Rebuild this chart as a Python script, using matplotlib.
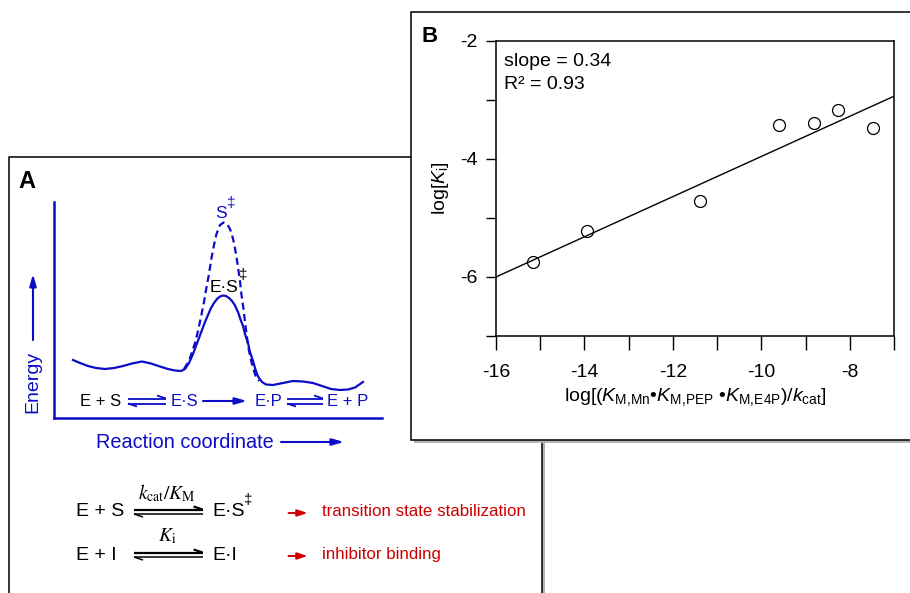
import numpy as np
import matplotlib.pyplot as plt
from matplotlib.patches import Rectangle

plt.rcParams['font.family'] = ['Liberation Sans', 'DejaVu Sans']
plt.rcParams['axes.unicode_minus'] = False
plt.rcParams['mathtext.fontset'] = 'custom'
plt.rcParams['mathtext.rm'] = 'Liberation Sans'
plt.rcParams['mathtext.it'] = 'Liberation Sans:italic'
plt.rcParams['mathtext.bf'] = 'Liberation Sans:bold'

# panel B: log Ki vs log[(KM,Mn*KM,PEP*KM,E4P)/kcat]
log_prod = [-15.17, -13.95, -11.39, -9.59, -8.80, -8.26, -7.47]
log_ki = [-5.75, -5.22, -4.72, -3.43, -3.40, -3.17, -3.48]
fit_slope = 0.34
fit_intercept = -0.56
fit_range = [-16, -7]
x_major = [-16, -14, -12, -10, -8]
x_minor = [-15, -13, -11, -9, -7]
y_major = [-2, -4, -6]
y_minor = [-3, -5, -7]

# panel A: schematic energy profile (reaction coordinate, energy)
rc_solid = [19, 26, 34, 42, 51, 60, 69, 78, 88, 97, 106, 114, 121, 127, 131, 135,
            139, 142, 145, 148, 151, 154, 157, 160, 163, 166, 169, 172, 175, 178,
            181, 184, 186, 189, 191, 194, 196, 199, 201, 203, 205, 208, 212, 219,
            229, 239, 249, 259, 268, 277, 286, 294, 301, 309]
en_solid = [58, 55, 52, 50, 49, 50, 52, 54.5, 56.5, 54.5, 51.5, 49, 47.5, 47, 49, 55,
            64, 72, 80, 88, 96, 103, 110, 115, 119, 121.5, 122.5, 122, 120, 117,
            112.5, 106, 100, 92, 84, 75, 66, 57, 50, 44, 40, 36, 33.5, 33,
            35, 37, 36.5, 35, 32, 29, 28, 28.5, 30.5, 36]
rc_dash = [130, 133, 136, 141, 144, 147, 150, 152, 155, 157.5, 160, 162.5, 166, 169.5,
           173, 176, 178, 180, 182, 184, 186, 187.5, 189.5, 191, 194, 196, 198, 200,
           202, 205]
en_dash = [49, 54, 60, 75, 87, 101, 116, 128, 144, 160, 173, 184, 193, 195.5,
           194, 189, 183, 175, 164, 151, 137, 123, 109, 96, 73, 62, 54, 47,
           41, 37]

W, H = 910, 593
BLUE = '#0c0cc8'
RED = '#cc0000'

fig = plt.figure(figsize=(9.1, 5.93), dpi=100)
bg = fig.add_axes([0, 0, 1, 1])
bg.set_xlim(0, W)
bg.set_ylim(H, 0)
bg.axis('off')


def px_axes(x0, y0, x1, y1):
    return fig.add_axes([x0 / W, 1 - y1 / H, (x1 - x0) / W, (y1 - y0) / H])


def harpoon(x0, x1, y, color, right=True, lw=1.3):
    bg.plot([x0, x1], [y, y], color=color, lw=lw, solid_capstyle='butt')
    if right:
        bg.plot([x1, x1 - 9], [y, y - 3], color=color, lw=lw, solid_capstyle='butt')
    else:
        bg.plot([x0, x0 + 9], [y, y + 3], color=color, lw=lw, solid_capstyle='butt')


def arrow(x0, y0, x1, y1, color, lw=1.5, hl=0.7, hw=0.2, ms=10):
    bg.annotate('', xy=(x1, y1), xytext=(x0, y0),
                arrowprops=dict(arrowstyle=f'-|>,head_length={hl},head_width={hw}',
                                color=color, lw=lw, shrinkA=0, shrinkB=0,
                                mutation_scale=ms))


# frames
bg.add_patch(Rectangle((12, 160), 533, 460, fc='#b4b4b4', ec='none'))
bg.add_patch(Rectangle((9, 157), 533, 460, fc='white', ec='black', lw=1.1))
bg.add_patch(Rectangle((414, 15), 520, 428, fc='#b4b4b4', ec='none'))
bg.add_patch(Rectangle((411, 12), 520, 428, fc='white', ec='black', lw=1.1))

bg.text(27, 182, 'A', fontsize=17, fontweight='bold', ha='center', va='center')
bg.text(430, 37, 'B', fontsize=16, fontweight='bold', ha='center', va='center')

# ---- panel A energy diagram
ea = px_axes(54, 202, 381.6, 418)
ea.set_facecolor('none')
ea.set_xlim(0, 327.6)
ea.set_ylim(0, 216)
for s in ['top', 'right']:
    ea.spines[s].set_visible(False)
for s in ['left', 'bottom']:
    ea.spines[s].set_color(BLUE)
    ea.spines[s].set_linewidth(1.8)
ea.set_xticks([])
ea.set_yticks([])
ea.plot(rc_dash, en_dash, color=BLUE, lw=1.6, ls=(0, (3.2, 1.9)))
ea.plot(rc_solid, en_solid, color=BLUE, lw=1.6, solid_joinstyle='round')

bg.text(33, 382, 'Energy', rotation=90, color=BLUE, fontsize=14, ha='center', va='center')
arrow(33, 340, 33, 274, BLUE)
bg.text(185, 442, 'Reaction coordinate', color=BLUE, fontsize=14.3, ha='center', va='center')
arrow(281, 442, 344, 442, BLUE)

bg.text(221.5, 213, 'S', color=BLUE, fontsize=12.5, ha='center', va='center')
bg.text(231, 203, '‡', color=BLUE, fontsize=11, ha='center', va='center')
bg.text(224, 287.3, 'E·S', color='black', fontsize=12.5, ha='center', va='center')
bg.text(243, 275, '‡', color='black', fontsize=11, ha='center', va='center')

ry = 401
bg.text(101, ry, 'E + S', color='black', fontsize=12, ha='center', va='center')
harpoon(128, 166, ry - 2.5, BLUE, right=True)
harpoon(128, 166, ry + 2.5, BLUE, right=False)
bg.text(184, ry, 'E·S', color=BLUE, fontsize=12, ha='center', va='center')
arrow(203, ry, 247, ry, BLUE)
bg.text(268, ry, 'E·P', color=BLUE, fontsize=12, ha='center', va='center')
harpoon(287, 323, ry - 2.5, BLUE, right=True)
harpoon(287, 323, ry + 2.5, BLUE, right=False)
bg.text(348, ry, 'E + P', color=BLUE, fontsize=12, ha='center', va='center')

# ---- panel A equations
for y, left, right, top in [(512, 'E + S', 'E·S', r'$k_{\rm cat}/K_{\rm M}$'),
                            (555, 'E + I', 'E·I', r'$K_{\rm i}$')]:
    bg.text(75.8, y, left, fontsize=14, ha='left', va='center')
    harpoon(134, 202.6, y - 2.5, 'black', right=True, lw=1.6)
    harpoon(134, 202.6, y + 2, 'black', right=False, lw=1.1)
    bg.text(212.7, y, right, fontsize=14, ha='left', va='center')
    bg.text(167, y - 19, top, fontsize=14, ha='center', va='center', math_fontfamily='stix')
    arrow(288.5, y + 1, 307.6, y + 1, RED, lw=1.4, hl=0.6, hw=0.2, ms=10)
bg.text(248.5, 500, '‡', fontsize=11, ha='center', va='center')
bg.text(321.5, 512, 'transition state stabilization', color=RED, fontsize=12.2,
        ha='left', va='center')
bg.text(321.5, 555, 'inhibitor binding', color=RED, fontsize=12.2, ha='left', va='center')

# ---- panel B scatter
bx = px_axes(496, 40.7, 894, 336)
bx.plot(log_prod, log_ki, 'o', mfc='none', mec='black', ms=8.6, mew=0.9)
fx = np.array(fit_range)
bx.plot(fx, fit_intercept + fit_slope * fx, color='black', lw=1.0)
bx.set_xlim(-16, -7)
bx.set_ylim(-7, -2)
bx.set_xticks(x_major)
bx.set_xticks(x_minor, minor=True)
bx.set_yticks(y_major)
bx.set_yticks(y_minor, minor=True)
bx.tick_params(axis='x', which='both', direction='out', length=10, width=1, labelsize=14, pad=10)
bx.tick_params(axis='y', which='both', direction='out', length=7, width=1, labelsize=14, pad=6)
for s in bx.spines.values():
    s.set_linewidth(1.1)
bx.text(0.02, 0.931, 'slope = 0.34', transform=bx.transAxes, fontsize=14, va='center')
bx.text(0.02, 0.85, 'R² = 0.93', transform=bx.transAxes, fontsize=14, va='center')
bx.set_xlabel(r'log[($K_{\mathrm{M,\!Mn}}$•$K_{\mathrm{M,\!PEP}}$ •$K_{\mathrm{M,\!E4P}}$)/$k_{\mathrm{cat}}$]',
              fontsize=14, labelpad=4)
bx.set_ylabel(r'log[$K_{\mathrm{i}}$]', fontsize=14, labelpad=7)

fig.savefig('out.png', dpi=100)
